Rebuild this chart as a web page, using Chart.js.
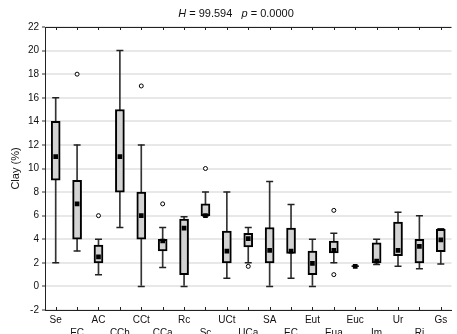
<!DOCTYPE html>
<html>
<head>
<meta charset="utf-8">
<script src="https://cdn.jsdelivr.net/npm/chart.js@4.4.0/dist/chart.umd.min.js"></script>
<style>
  html, body { margin: 0; padding: 0; background: #fff; }
  #wrap { width: 457px; height: 334px; position: relative; }
</style>
</head>
<body>
<div id="wrap"><canvas id="chart"></canvas></div>
<script>
// groups (EC appears twice in the original)
const groups = ['Se', 'EC', 'AC', 'CCh', 'CCt', 'CCa', 'Rc', 'Sc', 'UCt', 'UCa',
                'SA', 'EC', 'Eut', 'Eua', 'Euc', 'Im', 'Ur', 'Ri', 'Gs'];

const whiskerMin = [2, 3, 1, 5, 0, 1.6, 0, 6, 0.7, 2, 0, 0.7, 0, 2, 1.7, 1.85, 1.7, 1.5, 1.9];
const q1         = [9, 4, 2, 8, 4, 3, 1, 6, 2, 3.35, 2, 2.8, 1, 2.85, 1.7, 2, 2.6, 2, 2.95];
const medians    = [11, 7, 2.5, 11, 6, 3.85, 4.95, 6, 3, 4.05, 3.05, 3, 1.95, 3.05, 1.7, 2.15, 3.05, 3.4, 3.95];
const q3         = [14, 9, 3.5, 15, 8, 4, 5.7, 7, 4.7, 4.5, 5, 4.95, 3, 3.85, 1.7, 3.7, 5.45, 4, 4.85];
const whiskerMax = [16, 12, 4, 20, 12, 5, 5.9, 8, 8, 5, 8.9, 6.95, 4, 4.5, 1.7, 4, 6.3, 6, 4.9];

const outliersHigh = [null, 18, 6, null, 17, 7, null, 10, null, null, null, null, null, 6.45, null, null, null, null, null];
const outliersLow  = [null, null, null, null, null, null, null, null, null, 1.7, null, null, null, 1.0, null, null, null, null, null];

const yTicks = { min: -2, max: 22, step: 2 };

const FONT = "'Liberation Sans', Arial, sans-serif";

const whiskerRange = groups.map((g, i) => [whiskerMin[i], whiskerMax[i]]);
const boxRange = groups.map((g, i) => [q1[i], q3[i]]);

// frame extras: top border and inward tick marks on the x axis
const framePlugin = {
  id: 'frame',
  afterDraw(chart) {
    const { ctx, chartArea } = chart;
    const xs = chart.scales.x;
    ctx.save();
    ctx.strokeStyle = '#222';
    ctx.lineWidth = 1;
    ctx.beginPath();
    ctx.moveTo(chartArea.left, chartArea.top + 0.5);
    ctx.lineTo(chartArea.right, chartArea.top + 0.5);
    for (let i = 0; i < groups.length; i++) {
      const x = Math.round(xs.getPixelForTick(i)) + 0.5;
      ctx.moveTo(x, chartArea.top);
      ctx.lineTo(x, chartArea.top + 3);
      ctx.moveTo(x, chartArea.bottom);
      ctx.lineTo(x, chartArea.bottom - 3);
    }
    ctx.stroke();

    // title with italic H and p
    const parts = [
      ['italic', 'H'], ['normal', ' = 99.594   '], ['italic', 'p'], ['normal', ' = 0.0000']
    ];
    let total = 0;
    parts.forEach(p => { ctx.font = p[0] + ' 11px ' + FONT; total += ctx.measureText(p[1]).width; });
    let x = 236 - total / 2;
    ctx.fillStyle = '#111';
    ctx.textBaseline = 'alphabetic';
    parts.forEach(p => {
      ctx.font = p[0] + ' 11px ' + FONT;
      ctx.fillText(p[1], x, 17);
      x += ctx.measureText(p[1]).width;
    });
    ctx.restore();
  }
};

const ctx = document.getElementById('chart').getContext('2d');
const chart = new Chart(ctx, {
  type: 'bar',
  data: {
    labels: groups,
    datasets: [
      {
        label: 'whisker',
        data: whiskerRange,
        backgroundColor: '#333',
        borderWidth: 0,
        barThickness: 1,
        grouped: false,
        order: 6
      },
      {
        label: 'box',
        data: boxRange,
        backgroundColor: '#d3d3d3',
        borderColor: '#000',
        borderWidth: 2,
        borderSkipped: false,
        barThickness: 9,
        grouped: false,
        order: 3
      },
      {
        type: 'line',
        label: 'max',
        data: whiskerMax,
        showLine: false,
        pointStyle: 'line',
        pointRadius: 3.5,
        borderColor: '#222',
        borderWidth: 1.5,
        order: 5
      },
      {
        type: 'line',
        label: 'min',
        data: whiskerMin,
        showLine: false,
        pointStyle: 'line',
        pointRadius: 3.5,
        borderColor: '#222',
        borderWidth: 1.5,
        order: 5
      },
      {
        type: 'line',
        label: 'median',
        data: medians,
        showLine: false,
        pointStyle: 'rect',
        pointRadius: 3.3,
        backgroundColor: '#000',
        borderColor: '#000',
        borderWidth: 0,
        order: 1
      },
      {
        type: 'line',
        label: 'outlier high',
        data: outliersHigh,
        showLine: false,
        pointStyle: 'circle',
        pointRadius: 2,
        backgroundColor: '#fff',
        borderColor: '#000',
        borderWidth: 1,
        order: 1
      },
      {
        type: 'line',
        label: 'outlier low',
        data: outliersLow,
        showLine: false,
        pointStyle: 'circle',
        pointRadius: 2,
        backgroundColor: '#fff',
        borderColor: '#000',
        borderWidth: 1,
        order: 1
      }
    ]
  },
  options: {
    responsive: true,
    maintainAspectRatio: false,
    animation: false,
    layout: { padding: { top: 27, right: 0, left: 0, bottom: 0 } },
    plugins: {
      legend: { display: false },
      tooltip: { enabled: false },
      title: { display: false }
    },
    scales: {
      x: {
        offset: true,
        grid: { display: false, drawTicks: false, tickLength: 0 },
        border: { display: true, color: '#222', width: 1 },
        afterFit: s => { s.height = 24; },
        ticks: {
          autoSkip: false,
          maxRotation: 0,
          minRotation: 0,
          padding: 3,
          color: '#111',
          font: { family: FONT, size: 10, lineHeight: 1.35 },
          callback: (v, i) => (i % 2 === 0 ? [groups[i], ''] : ['', groups[i]])
        }
      },
      y: {
        min: yTicks.min,
        max: yTicks.max,
        afterFit: s => { s.width = 45; },
        grid: {
          color: '#e8e8e8',
          lineWidth: 2,
          drawTicks: true,
          tickLength: 3,
          tickColor: '#333',
          tickWidth: 1
        },
        border: { display: true, color: '#222', width: 1 },
        title: {
          display: true,
          text: 'Clay (%)',
          color: '#111',
          font: { family: FONT, size: 11 },
          padding: { top: 9, bottom: 0 }
        },
        ticks: {
          stepSize: yTicks.step,
          padding: 3,
          color: '#111',
          font: { family: FONT, size: 10 }
        }
      }
    }
  },
  plugins: [framePlugin]
});
</script>
</body>
</html>
